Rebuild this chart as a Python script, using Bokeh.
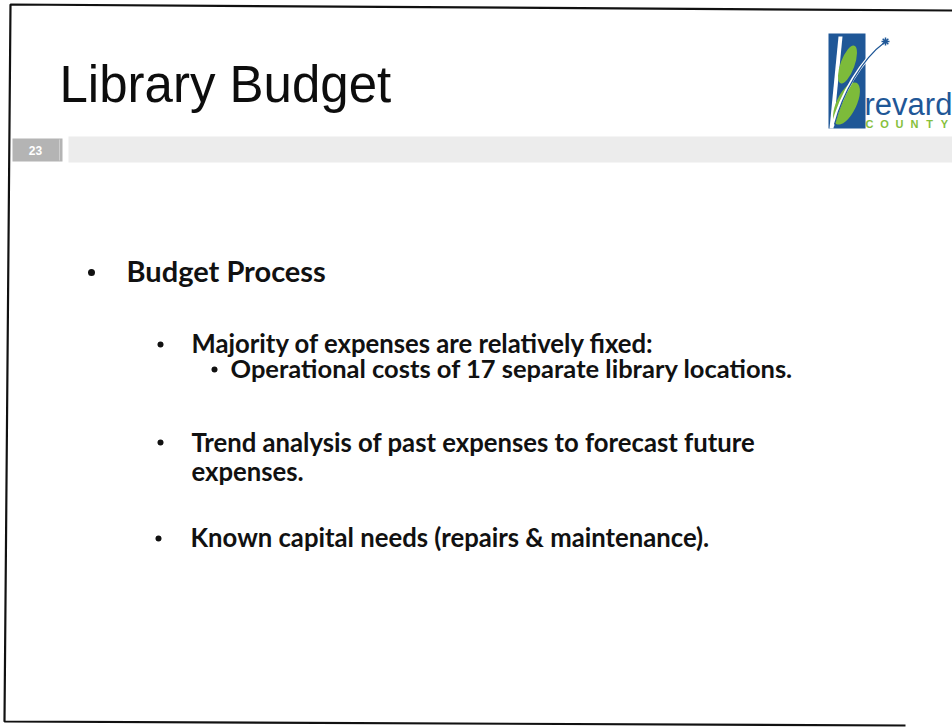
from bokeh.plotting import figure
from bokeh.models import Range1d
from bokeh.core.properties import value
from bokeh.embed import file_html
from bokeh.resources import INLINE

# ---- content ----
title = "Library Budget"
slide_number = "23"
heading = "Budget Process"
level1_items = [
    "Majority of expenses are relatively fixed:",
    "Trend analysis of past expenses to forecast future",
    "expenses.",
    "Known capital needs (repairs & maintenance).",
]
level2_items = ["Operational costs of 17 separate library locations."]
logo_word = "revard"
logo_county = ["C", "O", "U", "N", "T", "Y"]

# ---- layout (pixel-like coordinates, y downward) ----
W, H = 952, 727
K = 0.36  # baseline compensation factor (fraction of font size)

p = figure(width=W, height=H, x_range=Range1d(0, W), y_range=Range1d(H, 0),
           output_backend="svg", toolbar_location=None, min_border=0,
           x_axis_location=None, y_axis_location=None)
p.grid.visible = False
p.outline_line_color = None
p.background_fill_color = "white"
p.border_fill_color = "white"


def base(y, size):
    return y - K * size


# slide frame (slightly rotated scan)
p.line(x=[952, 10, 4, 905], y=[10, 4, 721, 725], line_color="#111111", line_width=2.2)

# grey header band and slide number box
p.quad(left=[68], right=[960], top=[136], bottom=[162], fill_color="#ececec", line_color=None)
p.quad(left=[12], right=[62], top=[138], bottom=[161], fill_color="#b4b4b4", line_color=None)
p.segment(x0=[59], y0=[139], x1=[59], y1=[160], line_color="#cfcfcf", line_width=1)
p.text(x=[35], y=[150], text=[slide_number], text_font=value("Liberation Sans"),
       text_font_style="bold", text_font_size="12px", text_color="white",
       text_align="center", text_baseline="middle")

# title
ts = 51
p.text(x=[59], y=[base(102, ts)], text=[title], text_font=value("Liberation Sans"),
       text_font_size=f"{ts}px", text_color="#0d0d0d", text_baseline="alphabetic")

# logo
blue = "#1f5797"
green = "#7dbb3a"
p.quad(left=[828], right=[865], top=[33], bottom=[128], fill_color=blue, line_color=None)
p.patch(x=[829, 833, 842, 838], y=[128, 128, 36, 36], fill_color="white", line_color=None)
p.ellipse(x=[847], y=[64], width=[14], height=[40], angle=[-0.35], fill_color=green, line_color=None)
p.ellipse(x=[846], y=[103], width=[20], height=[46], angle=[-0.45], fill_color=green, line_color=None)
p.bezier(x0=[832], y0=[126], x1=[884], y1=[42], cx0=[840], cy0=[95], cx1=[860], cy1=[60],
         line_color="white", line_width=3)
p.bezier(x0=[834], y0=[124], x1=[884], y1=[42], cx0=[842], cy0=[93], cx1=[862], cy1=[58],
         line_color=blue, line_width=1.2)
p.scatter(x=[885], y=[41], marker="asterisk", size=8, line_color=blue, line_width=1.5)
ls = 31
p.text(x=[864], y=[base(115, ls)], text=[logo_word], text_font=value("Liberation Sans"),
       text_font_size=f"{ls}px", text_color=blue, text_baseline="alphabetic")
cs = 11
p.text(x=[869 + 15 * i for i in range(len(logo_county))], y=[base(127, cs)] * len(logo_county),
       text=logo_county, text_font=value("Liberation Sans"), text_font_style="bold",
       text_font_size=f"{cs}px", text_color="#86c03c", text_align="center",
       text_baseline="alphabetic")

# bullets
font = value("Lato")
hs = 29
p.scatter(x=[91], y=[272], size=7, fill_color="#111111", line_color=None)
p.text(x=[126], y=[base(280, hs)], text=[heading], text_font=font, text_font_style="bold",
       text_font_size=f"{hs}px", text_color="#111111", text_baseline="alphabetic")

s1 = 25.7
p.scatter(x=[160, 160, 158], y=[344, 442, 538], size=6, fill_color="#111111", line_color=None)
p.text(x=[191, 191, 191, 190], y=[base(b, s1) for b in [352, 451, 480, 546]], text=level1_items,
       text_font=font, text_font_style="bold", text_font_size=f"{s1}px", text_color="#111111",
       text_baseline="alphabetic")

s2 = 25.5
p.scatter(x=[214], y=[369], size=6, fill_color="#111111", line_color=None)
p.text(x=[230], y=[base(377, s2)], text=level2_items, text_font=font, text_font_style="bold",
       text_font_size=f"{s2}px", text_color="#111111", text_baseline="alphabetic")

open("out.html", "w").write(file_html(p, INLINE))
